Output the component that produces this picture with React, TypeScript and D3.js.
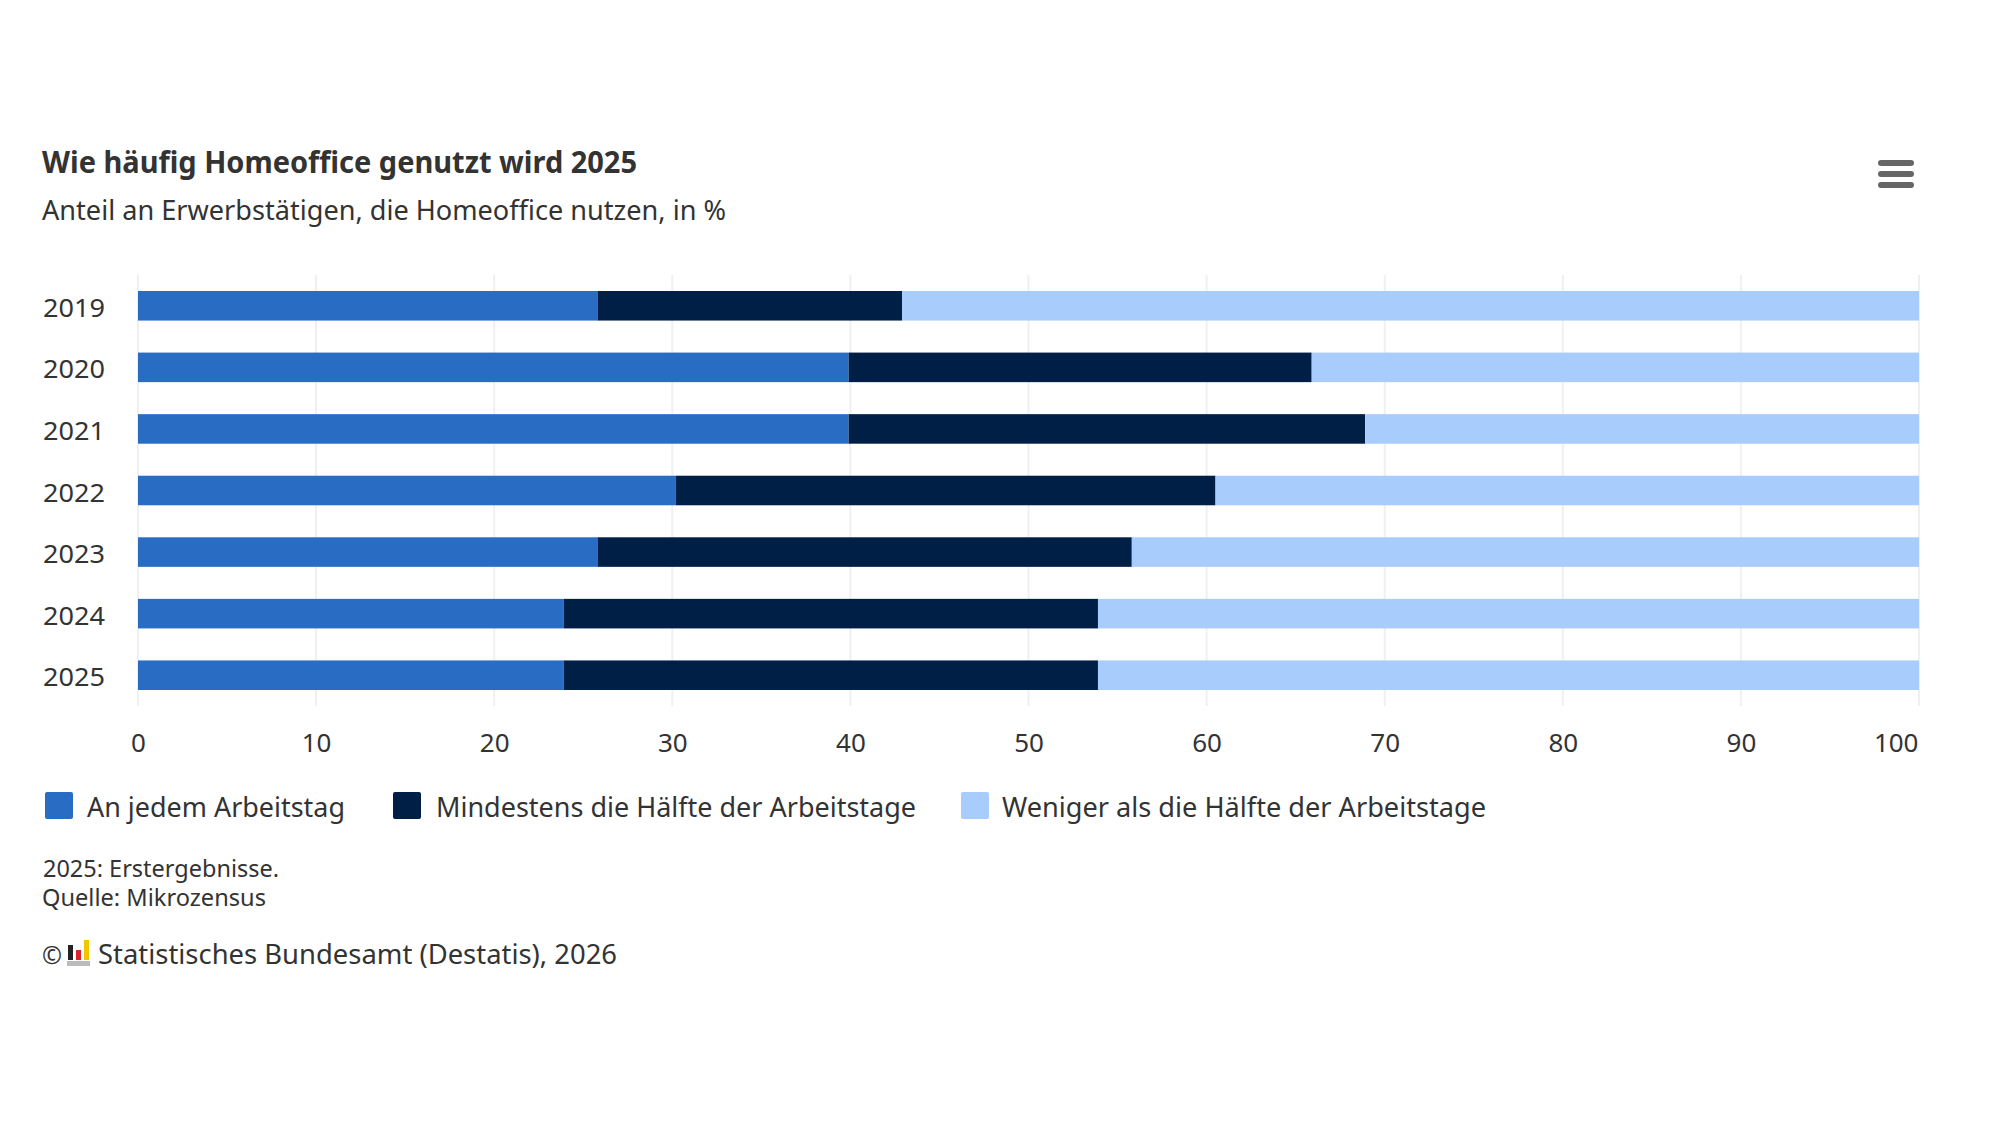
import { useEffect, useRef } from "react";
import * as d3 from "d3";

const years = ["2019", "2020", "2021", "2022", "2023", "2024", "2025"];
const everyDay = [25.8, 39.9, 39.9, 30.2, 25.8, 23.9, 23.9];
const halfOrMore = [17.1, 26, 29, 30.3, 30, 30, 30];
const lessThanHalf = [57.1, 34.1, 31.1, 39.5, 44.2, 46.1, 46.1];
const seriesNames = [
  "An jedem Arbeitstag",
  "Mindestens die Hälfte der Arbeitstage",
  "Weniger als die Hälfte der Arbeitstage",
];
const seriesColors = ["#286cc4", "#001f47", "#a8ccfc"];
const xTicks = [0, 10, 20, 30, 40, 50, 60, 70, 80, 90, 100];

const FONT = "'Noto Sans', sans-serif";
const TEXT = "#333333";

export default function App() {
  const ref = useRef<HTMLDivElement>(null);

  useEffect(() => {
    if (!ref.current) return;

    const container = ref.current;
    container.innerHTML = "";

    const width = 2000;
    const height = 1122;
    const plot = { top: 275, bottom: 706, left: 138, right: 1919 };

    const svg = d3
      .select(container)
      .append("svg")
      .attr("width", width)
      .attr("height", height)
      .style("position", "absolute")
      .style("left", 0)
      .style("top", 0)
      .style("background", "#ffffff")
      .style("font-family", FONT);

    // squeezed text, the source font is narrower than anything installed
    const label = (
      s: string,
      x: number,
      y: number,
      size: number,
      len: number,
      weight = 400
    ) =>
      svg
        .append("text")
        .attr("x", x)
        .attr("y", y)
        .attr("font-size", size)
        .attr("font-weight", weight)
        .attr("fill", TEXT)
        .attr("textLength", len)
        .attr("lengthAdjust", "spacingAndGlyphs")
        .text(s);

    label("Wie häufig Homeoffice genutzt wird 2025", 42, 173, 31, 595, 700);
    label("Anteil an Erwerbstätigen, die Homeoffice nutzen, in %", 42, 220, 27, 684);

    // menu icon
    [163, 174, 185].forEach((cy) => {
      svg
        .append("rect")
        .attr("x", 1878)
        .attr("y", cy - 3)
        .attr("width", 36)
        .attr("height", 6)
        .attr("rx", 3)
        .attr("fill", "#666666");
    });

    // scales
    const x = d3
      .scaleLinear()
      .domain([0, 100])
      .range([plot.left, plot.right]);

    const y = d3
      .scaleBand<string>()
      .domain(years)
      .range([plot.top, plot.bottom])
      .paddingInner(0.52)
      .paddingOuter(0.26);

    // grid
    svg
      .append("g")
      .selectAll("line")
      .data(xTicks)
      .join("line")
      .attr("x1", (d) => x(d))
      .attr("x2", (d) => x(d))
      .attr("y1", plot.top)
      .attr("y2", plot.bottom)
      .attr("stroke", "#f0f0f0")
      .attr("stroke-width", 2);

    // stacked bars
    const rows = years.map((year, i) => ({
      year,
      a: everyDay[i],
      b: halfOrMore[i],
      c: lessThanHalf[i],
    }));
    const stack = d3.stack<(typeof rows)[number]>().keys(["a", "b", "c"]);

    svg
      .append("g")
      .selectAll("g")
      .data(stack(rows))
      .join("g")
      .attr("fill", (_, i) => seriesColors[i])
      .selectAll("rect")
      .data((s) => s)
      .join("rect")
      .attr("x", (d) => x(d[0]))
      .attr("width", (d) => x(d[1]) - x(d[0]))
      .attr("y", (d) => y(d.data.year)!)
      .attr("height", y.bandwidth());

    // year labels
    years.forEach((year) => {
      label(year, 43, y(year)! + y.bandwidth() / 2 + 11, 26, 62);
    });

    // x axis labels
    const xAxis = svg
      .append("g")
      .attr("transform", `translate(0,${752 - 9})`)
      .call(
        d3
          .axisBottom(x)
          .tickValues(xTicks)
          .tickSize(0)
          .tickPadding(0)
      );
    xAxis.select(".domain").remove();
    xAxis
      .selectAll<SVGTextElement, number>("text")
      .attr("y", 9)
      .attr("dy", 0)
      .attr("x", (d) => (d === 100 ? -1 : 0))
      .style("font-family", FONT)
      .style("font-size", "26px")
      .style("fill", TEXT)
      .attr("text-anchor", (d) => (d === 100 ? "end" : "middle"));

    // legend
    const legend = [
      { swatch: 45, text: 87, len: 258 },
      { swatch: 393, text: 436, len: 480 },
      { swatch: 961, text: 1002, len: 484 },
    ];
    legend.forEach((l, i) => {
      svg
        .append("rect")
        .attr("x", l.swatch)
        .attr("y", 792)
        .attr("width", 28)
        .attr("height", 27)
        .attr("rx", 2)
        .attr("fill", seriesColors[i]);
      label(seriesNames[i], l.text, 817, 27, l.len);
    });

    // notes
    label("2025: Erstergebnisse.", 43, 877, 24, 236);
    label("Quelle: Mikrozensus", 42, 906, 24, 224);

    // copyright with the small logo
    label("©", 42, 964, 26, 20);
    const logo = [
      { x: 68, y: 945, h: 15, c: "#222222" },
      { x: 76, y: 950, h: 10, c: "#d8232a" },
      { x: 84, y: 940, h: 20, c: "#f5c400" },
    ];
    logo.forEach((b) => {
      svg
        .append("rect")
        .attr("x", b.x)
        .attr("y", b.y)
        .attr("width", 5)
        .attr("height", b.h)
        .attr("fill", b.c);
    });
    svg
      .append("rect")
      .attr("x", 67)
      .attr("y", 961)
      .attr("width", 23)
      .attr("height", 5)
      .attr("fill", "#bbbbbb");
    label("Statistisches Bundesamt (Destatis), 2026", 98, 964, 27, 519);
  }, []);

  return <div ref={ref} />;
}
